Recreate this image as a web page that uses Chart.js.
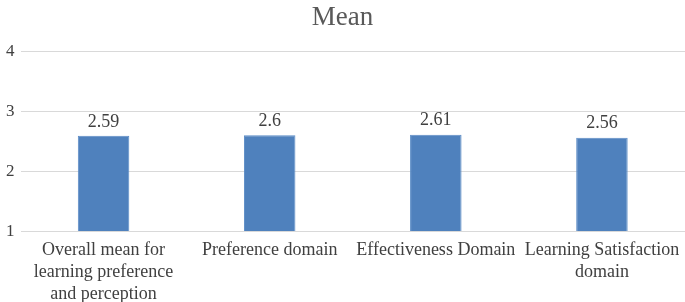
<!DOCTYPE html>
<html>
<head>
<meta charset="utf-8">
<script src="https://cdn.jsdelivr.net/npm/chart.js@4"></script>
<style>
  html,body{margin:0;padding:0;background:#fff}
  #wrap{width:685px;height:302px;position:relative}
</style>
</head>
<body>
<div id="wrap"><canvas id="meanChart"></canvas></div>
<script>
const CATEGORIES = [
  ['Overall mean for', 'learning preference', 'and perception'],
  'Preference domain',
  'Effectiveness Domain',
  ['Learning Satisfaction', 'domain']
];
const MEANS = [2.59, 2.6, 2.61, 2.56];
const Y_TICKS = [1, 2, 3, 4];

const FONT = "'Liberation Serif', 'DejaVu Serif', serif";

// draws the value above each bar
const valueLabels = {
  id: 'valueLabels',
  afterDatasetsDraw(chart) {
    const ctx = chart.ctx;
    ctx.save();
    ctx.font = '18px ' + FONT;
    ctx.fillStyle = '#404040';
    ctx.textAlign = 'center';
    ctx.textBaseline = 'middle';
    chart.getDatasetMeta(0).data.forEach((bar, i) => {
      ctx.fillText(String(MEANS[i]), bar.x, bar.y - 14);
    });
    ctx.restore();
  }
};

new Chart(document.getElementById('meanChart'), {
  type: 'bar',
  data: {
    labels: CATEGORIES,
    datasets: [{
      label: 'Mean',
      data: MEANS,
      backgroundColor: '#4F81BD',
      borderColor: '#5B8CC6',
      borderWidth: 1,
      categoryPercentage: 1,
      barPercentage: 0.31
    }]
  },
  options: {
    responsive: true,
    maintainAspectRatio: false,
    animation: false,
    layout: { padding: { left: 0, right: 0, top: 0, bottom: -3 } },
    plugins: {
      legend: { display: false },
      tooltip: { enabled: false },
      title: {
        display: true,
        text: 'Mean',
        color: '#595959',
        font: { family: FONT, size: 27, weight: 'normal' },
        padding: { top: 2, bottom: 17 }
      }
    },
    scales: {
      x: {
        grid: { display: false },
        border: { display: false },
        ticks: {
          color: '#404040',
          font: { family: FONT, size: 18, lineHeight: 1.22 },
          maxRotation: 0,
          autoSkip: false,
          padding: 0
        }
      },
      y: {
        min: 1,
        max: 4,
        afterBuildTicks(axis) { axis.ticks = Y_TICKS.map(v => ({ value: v })); },
        grid: { color: '#D9D9D9', lineWidth: 1, drawTicks: false },
        border: { display: false },
        ticks: {
          color: '#404040',
          font: { family: FONT, size: 17 },
          padding: 6
        }
      }
    }
  },
  plugins: [valueLabels]
});
</script>
</body>
</html>
